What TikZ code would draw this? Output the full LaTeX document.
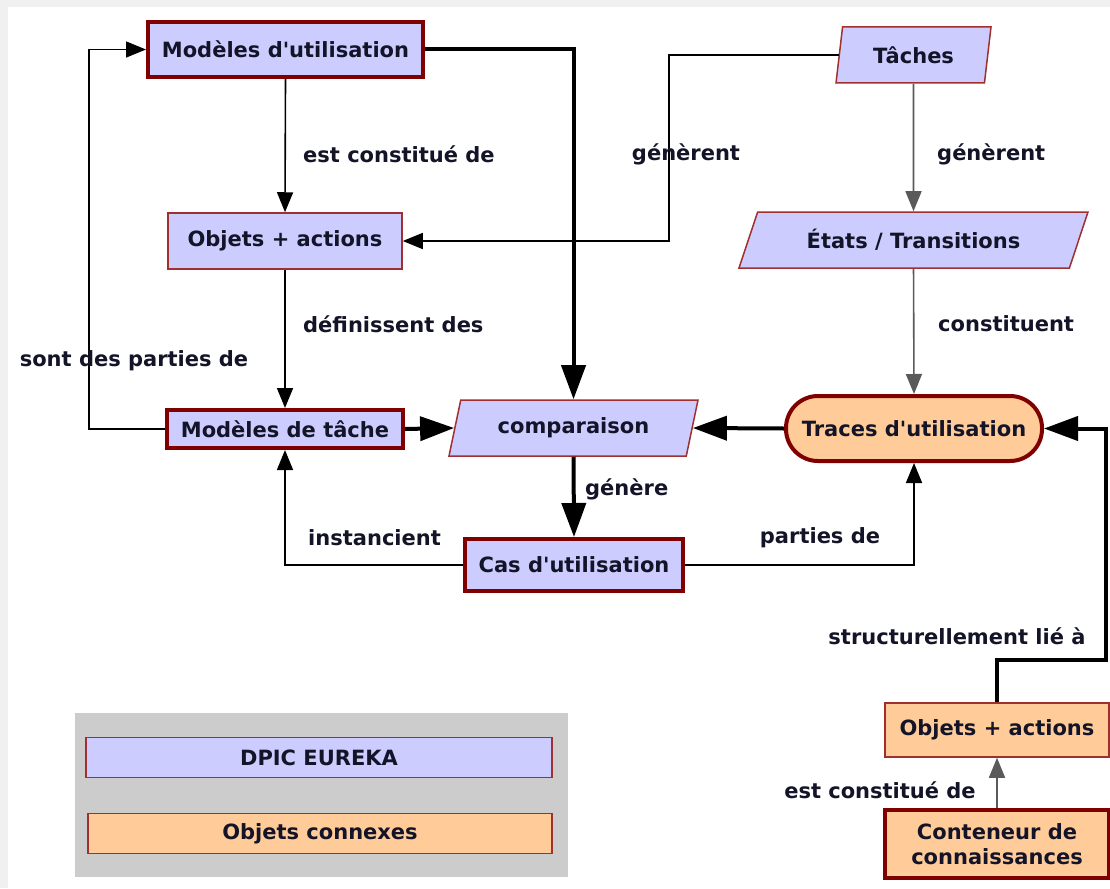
\documentclass[tikz,border=0pt]{standalone}
\usepackage{fontspec}
\setmainfont{DejaVu Sans}
\usepackage{xcolor}
\definecolor{boxblue}{RGB}{204,204,255}
\definecolor{boxorange}{RGB}{255,204,153}
\definecolor{boxred}{RGB}{128,0,0}
\definecolor{edgered}{RGB}{160,48,48}
\definecolor{legendgray}{RGB}{204,204,204}
\definecolor{linegray}{RGB}{90,90,90}
\definecolor{textnavy}{RGB}{20,20,40}
\usetikzlibrary{arrows.meta,positioning,shapes.geometric}

\begin{document}
\begin{tikzpicture}[x=1pt, y=-1pt,
    every node/.style={font=\fontsize{21}{25}\selectfont\bfseries, text=textnavy, inner sep=0pt, align=center},
    mainbox/.style={draw=boxred, line width=4pt, fill=boxblue},
    thinbox/.style={draw=edgered, line width=1.5pt, fill=boxblue},
    parabox/.style={thinbox, trapezium, trapezium stretches body},
    conn/.style={-{Triangle[length=20pt,width=16pt]}, line width=1.6pt},
    grayconn/.style={conn, linegray},
    bigconn/.style={-{Triangle[length=34pt,width=24pt]}, line width=4pt},
    lbl/.style={anchor=west}]
  \useasboundingbox (0,0) rectangle (1110,888);
  \fill[black!6] (0,0) rectangle (1110,888);
  \fill[white] (8,7) rectangle (1110,888);

  % left column
  \node[mainbox, minimum width=275pt, minimum height=55pt] (usemod) at (285.5,49.5) {Modèles d\textquotesingle utilisation};
  \node[thinbox, minimum width=234pt, minimum height=56pt] (objtop) at (285,241) {Objets + actions};
  \node[mainbox, minimum width=236pt, minimum height=38pt] (taskmod) at (285,429) {Modèles de tâche};

  % centre
  \node[parabox, trapezium left angle=60, trapezium right angle=120,
        minimum width=249pt, minimum height=56pt] (compar) at (573.5,428) {comparaison};
  \node[mainbox, minimum width=218pt, minimum height=52pt] (usecase) at (574,565) {Cas d\textquotesingle utilisation};

  % right column
  \node[parabox, trapezium left angle=69, trapezium right angle=111,
        minimum width=155pt, minimum height=56pt] (tasks) at (913.5,55) {Tâches};
  \node[parabox, trapezium left angle=49, trapezium right angle=131,
        minimum width=349pt, minimum height=56pt] (states) at (913.5,240) {États / Transitions};
  \node[mainbox, fill=boxorange, rounded corners=32pt, minimum width=256pt, minimum height=65pt] (traces) at (914,428.5) {Traces d\textquotesingle utilisation};
  \node[thinbox, fill=boxorange, minimum width=224pt, minimum height=54pt] (objbot) at (997,730) {Objets + actions};
  \node[mainbox, fill=boxorange, minimum width=224pt, minimum height=68pt] (container) at (997,844) {Conteneur de\\connaissances};

  % legend
  \fill[legendgray] (75,713) rectangle (568,877);
  \node[thinbox, minimum width=466pt, minimum height=40pt] (keyblue) at (319,757.5) {DPIC EUREKA};
  \node[thinbox, fill=boxorange, minimum width=464pt, minimum height=40pt] (keyorange) at (320,833.5) {Objets connexes};

  % bends
  \coordinate (split) at (669,148);
  \coordinate (bend) at (1106,660);

  % connectors
  \draw[bigconn] (usemod.east) -| (compar.north);
  \draw[conn] (usemod.south) -- (objtop.north);
  \draw[conn] (tasks.west) -| (split) |- (objtop.east);
  \draw[conn] (objtop.south) -- (taskmod.north);
  \draw[conn] (taskmod.west) -- ++(-76,0) |- (usemod.west);
  \draw[bigconn] (taskmod.east) -- (compar.west);
  \draw[grayconn] (tasks.south) -- (states.north);
  \draw[grayconn] (states.south) -- (traces.north);
  \draw[bigconn] (traces.west) -- (compar.east);
  \draw[bigconn] (compar.south) -- (usecase.north);
  \draw[conn] (usecase.west) -| (taskmod.south);
  \draw[conn] (usecase.east) -| (traces.south);
  \draw[bigconn] (objbot.north) |- (bend) |- (traces.east);
  \draw[grayconn] (container.north) -- (objbot.south);

  % link labels
  \node[lbl] (l1) at (303,154) {est constitué de};
  \node (l2) at (686,154) {génèrent};
  \node[lbl] (l3) at (937,154) {génèrent};
  \node[lbl] (l4) at (303,324) {définissent des};
  \node[lbl] (l5) at (938,324) {constituent};
  \node (l6) at (134,361) {sont des parties de};
  \node[lbl] (l7) at (585,489) {génère};
  \node[lbl] (l8) at (308,538) {instancient};
  \node (l9) at (820,538) {parties de};
  \node (l10) at (957,636) {structurellement lié à};
  \node (l11) at (880,790) {est constitué de};
\end{tikzpicture}
\end{document}
